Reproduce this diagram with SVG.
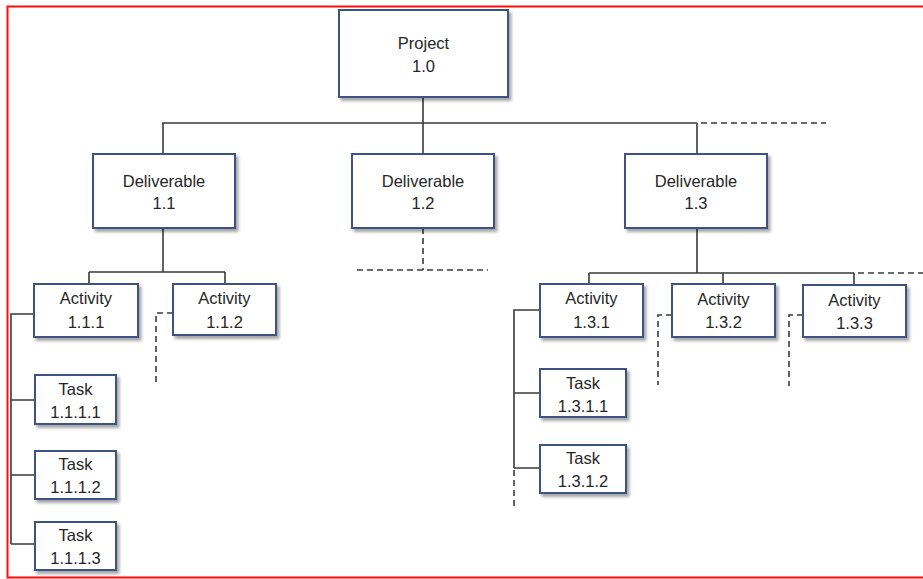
<svg xmlns="http://www.w3.org/2000/svg" width="923" height="579" viewBox="0 0 923 579">
  <style>
    .box { fill: #ffffff; stroke: #3c5386; stroke-width: 2; filter: url(#shadow); }
    .lbl { font-family: "Liberation Sans", Arial, sans-serif; font-size: 16.5px; fill: #262626; text-anchor: middle; }
    .ln { fill: none; stroke: #3a3a3a; stroke-width: 1.6; }
    .dash { fill: none; stroke: #3a3a3a; stroke-width: 1.6; stroke-dasharray: 6 4; }
    .frame { fill: none; stroke: #ff0d0d; stroke-width: 2; }
  </style>
  <defs>
    <filter id="shadow" x="-10%" y="-10%" width="125%" height="130%">
      <feDropShadow dx="2.5" dy="3" stdDeviation="1.8" flood-color="#000000" flood-opacity="0.35"/>
    </filter>
  </defs>

  <rect width="923" height="579" fill="#ffffff"/>

  <!-- outer frame (open on the right) -->
  <path class="frame" d="M923 6.5 H7.5 V577.5 H923"/>

  <!-- connectors -->
  <g id="connectors">
    <!-- project to deliverables -->
    <path class="ln" d="M423 97 V123 M162 123 H697 M163 123 V154 M423 123 V154 M697 123 V154"/>
    <path class="dash" d="M701 123 H826"/>
    <!-- deliverable 1.1 to activities -->
    <path class="ln" d="M163 228 V272 M89 272 H225 M89 272 V285 M225 272 V285"/>
    <!-- deliverable 1.2 (continues) -->
    <path class="dash" d="M423 228 V270 M357 270 H488"/>
    <!-- deliverable 1.3 to activities -->
    <path class="ln" d="M697 228 V273 M589 273 H854 M589 273 V285 M723 273 V285 M854 273 V285"/>
    <path class="dash" d="M858 273 H923"/>
    <!-- activity 1.1.1 to tasks -->
    <path class="ln" d="M34 314 H11 V544 M11 400 H35 M11 475 H35 M11 544 H35"/>
    <!-- activity 1.1.2 (continues) -->
    <path class="dash" d="M173 313 H156 V383"/>
    <!-- activity 1.3.1 to tasks -->
    <path class="ln" d="M540 310 H514 V468 M514 393 H540 M514 468 H540"/>
    <path class="dash" d="M514 470 V509"/>
    <!-- activities 1.3.2 and 1.3.3 (continue) -->
    <path class="dash" d="M672 315 H658 V385"/>
    <path class="dash" d="M803 315 H789 V386"/>
  </g>

  <g id="project">
    <rect class="box" x="339" y="10" width="169" height="87"/>
    <text class="lbl" x="423.5" y="49">Project</text>
    <text class="lbl" x="423.5" y="72">1.0</text>
  </g>

  <g id="deliverable-1-1">
    <rect class="box" x="93" y="154" width="142" height="74"/>
    <text class="lbl" x="164" y="187">Deliverable</text>
    <text class="lbl" x="164" y="209">1.1</text>
  </g>
  <g id="deliverable-1-2">
    <rect class="box" x="352" y="154" width="142" height="74"/>
    <text class="lbl" x="423" y="187">Deliverable</text>
    <text class="lbl" x="423" y="209">1.2</text>
  </g>
  <g id="deliverable-1-3">
    <rect class="box" x="625" y="154" width="142" height="74"/>
    <text class="lbl" x="696" y="187">Deliverable</text>
    <text class="lbl" x="696" y="209">1.3</text>
  </g>

  <g id="activity-1-1-1">
    <rect class="box" x="34" y="284" width="104" height="53"/>
    <text class="lbl" x="86" y="304">Activity</text>
    <text class="lbl" x="86" y="328">1.1.1</text>
  </g>
  <g id="activity-1-1-2">
    <rect class="box" x="173" y="284" width="103" height="51"/>
    <text class="lbl" x="224.5" y="304">Activity</text>
    <text class="lbl" x="224.5" y="328">1.1.2</text>
  </g>
  <g id="activity-1-3-1">
    <rect class="box" x="540" y="284" width="103" height="53"/>
    <text class="lbl" x="591.5" y="304">Activity</text>
    <text class="lbl" x="591.5" y="328">1.3.1</text>
  </g>
  <g id="activity-1-3-2">
    <rect class="box" x="672" y="284" width="103" height="53"/>
    <text class="lbl" x="723.5" y="305">Activity</text>
    <text class="lbl" x="723.5" y="328">1.3.2</text>
  </g>
  <g id="activity-1-3-3">
    <rect class="box" x="803" y="285" width="103" height="52"/>
    <text class="lbl" x="854.5" y="306">Activity</text>
    <text class="lbl" x="854.5" y="329">1.3.3</text>
  </g>

  <g id="task-1-1-1-1">
    <rect class="box" x="35" y="375" width="81" height="49"/>
    <text class="lbl" x="75.5" y="395">Task</text>
    <text class="lbl" x="75.5" y="418">1.1.1.1</text>
  </g>
  <g id="task-1-1-1-2">
    <rect class="box" x="35" y="451" width="81" height="48"/>
    <text class="lbl" x="75.5" y="470">Task</text>
    <text class="lbl" x="75.5" y="493">1.1.1.2</text>
  </g>
  <g id="task-1-1-1-3">
    <rect class="box" x="35" y="522" width="81" height="48"/>
    <text class="lbl" x="75.5" y="541">Task</text>
    <text class="lbl" x="75.5" y="564">1.1.1.3</text>
  </g>
  <g id="task-1-3-1-1">
    <rect class="box" x="540" y="369" width="86" height="48"/>
    <text class="lbl" x="583" y="389">Task</text>
    <text class="lbl" x="583" y="412">1.3.1.1</text>
  </g>
  <g id="task-1-3-1-2">
    <rect class="box" x="540" y="445" width="86" height="48"/>
    <text class="lbl" x="583" y="464">Task</text>
    <text class="lbl" x="583" y="487">1.3.1.2</text>
  </g>
</svg>
